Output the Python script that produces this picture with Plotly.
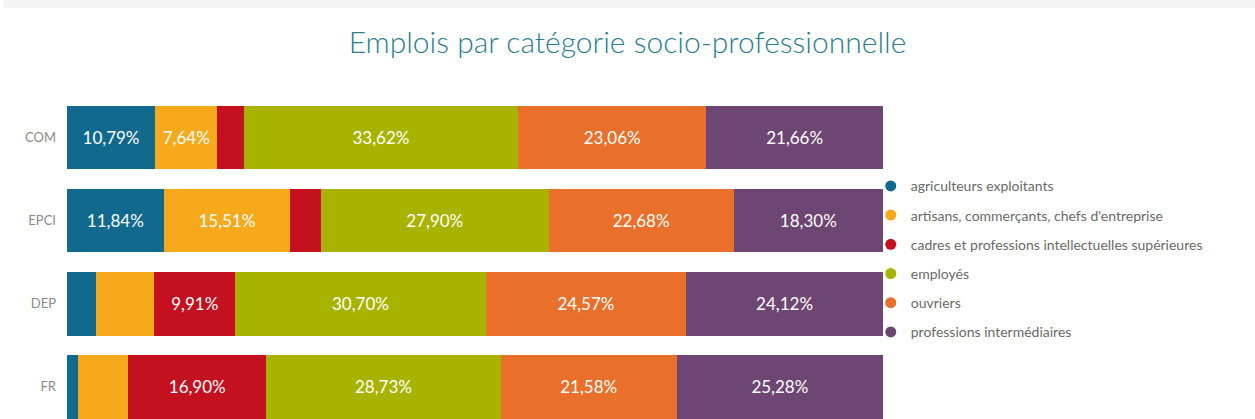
import plotly.graph_objects as go

territories = ["COM", "EPCI", "DEP", "FR"]
categories = [
    "agriculteurs exploitants",
    "artisans, commerçants, chefs d'entreprise",
    "cadres et professions intellectuelles supérieures",
    "employés",
    "ouvriers",
    "professions intermédiaires",
]
agriculteurs = [10.79, 11.84, 3.50, 1.35]
artisans = [7.64, 15.51, 7.20, 6.16]
cadres = [3.23, 3.77, 9.91, 16.90]
employes = [33.62, 27.90, 30.70, 28.73]
ouvriers = [23.06, 22.68, 24.57, 21.58]
prof_inter = [21.66, 18.30, 24.12, 25.28]
series = [agriculteurs, artisans, cadres, employes, ouvriers, prof_inter]
colors = ["#116a8e", "#f6a91b", "#c5101f", "#a8b300", "#e8702a", "#6e4673"]

def fmt(v):
    return (f"{v:.2f}".replace(".", ",") + "%") if v >= 7.5 else ""

fig = go.Figure()
for name, vals, col in zip(categories, series, colors):
    fig.add_trace(go.Bar(
        y=territories, x=vals, name=name, orientation="h",
        marker=dict(color=col, line=dict(width=0)),
        text=[fmt(v) for v in vals], textposition="inside",
        insidetextanchor="middle", textangle=0,
        textfont=dict(color="white", size=17, family="Lato"),
        showlegend=False,
    ))
for i, (name, col) in enumerate(zip(categories, colors)):
    fig.add_trace(go.Scatter(
        x=[None], y=[None], mode="markers", name=name,
        marker=dict(color=col, size=11, symbol="circle"),
        legendgroup=f"g{i}", showlegend=True,
    ))

fig.add_shape(type="rect", xref="paper", yref="paper",
              x0=-0.078, x1=1.5, y0=1.273, y1=1.32,
              fillcolor="#f3f3f3", line=dict(width=0), layer="below")

fig.update_layout(
    width=1255, height=419,
    margin=dict(l=67, r=372, t=96, b=0),
    barmode="stack", bargap=0.235,
    paper_bgcolor="white", plot_bgcolor="white",
    font=dict(family="Lato", color="#777"),
    title=dict(text="Emplois par catégorie socio-professionnelle",
               x=0.5, xanchor="center", y=1 - 42 / 419, yanchor="middle",
               font=dict(size=30, color="#2c7d8e", family="Lato", weight=300)),
    xaxis=dict(range=[0, 100], visible=False, fixedrange=True),
    yaxis=dict(categoryorder="array", categoryarray=territories,
               range=[3.387, -0.5], autorange=False,
               showgrid=False, zeroline=False, showline=False,
               ticks="", ticklabelstandoff=10, fixedrange=True,
               tickfont=dict(size=13, color="#8a8a8a")),
    legend=dict(x=0.985, xanchor="left", y=0.77, yanchor="top",
                font=dict(size=14, color="#6a6a6a"),
                tracegroupgap=8, bgcolor="rgba(0,0,0,0)",
                itemclick=False),
    showlegend=True,
)

fig.write_html("out.html", config={"displayModeBar": False},
               post_script="document.body.style.margin='0';")
